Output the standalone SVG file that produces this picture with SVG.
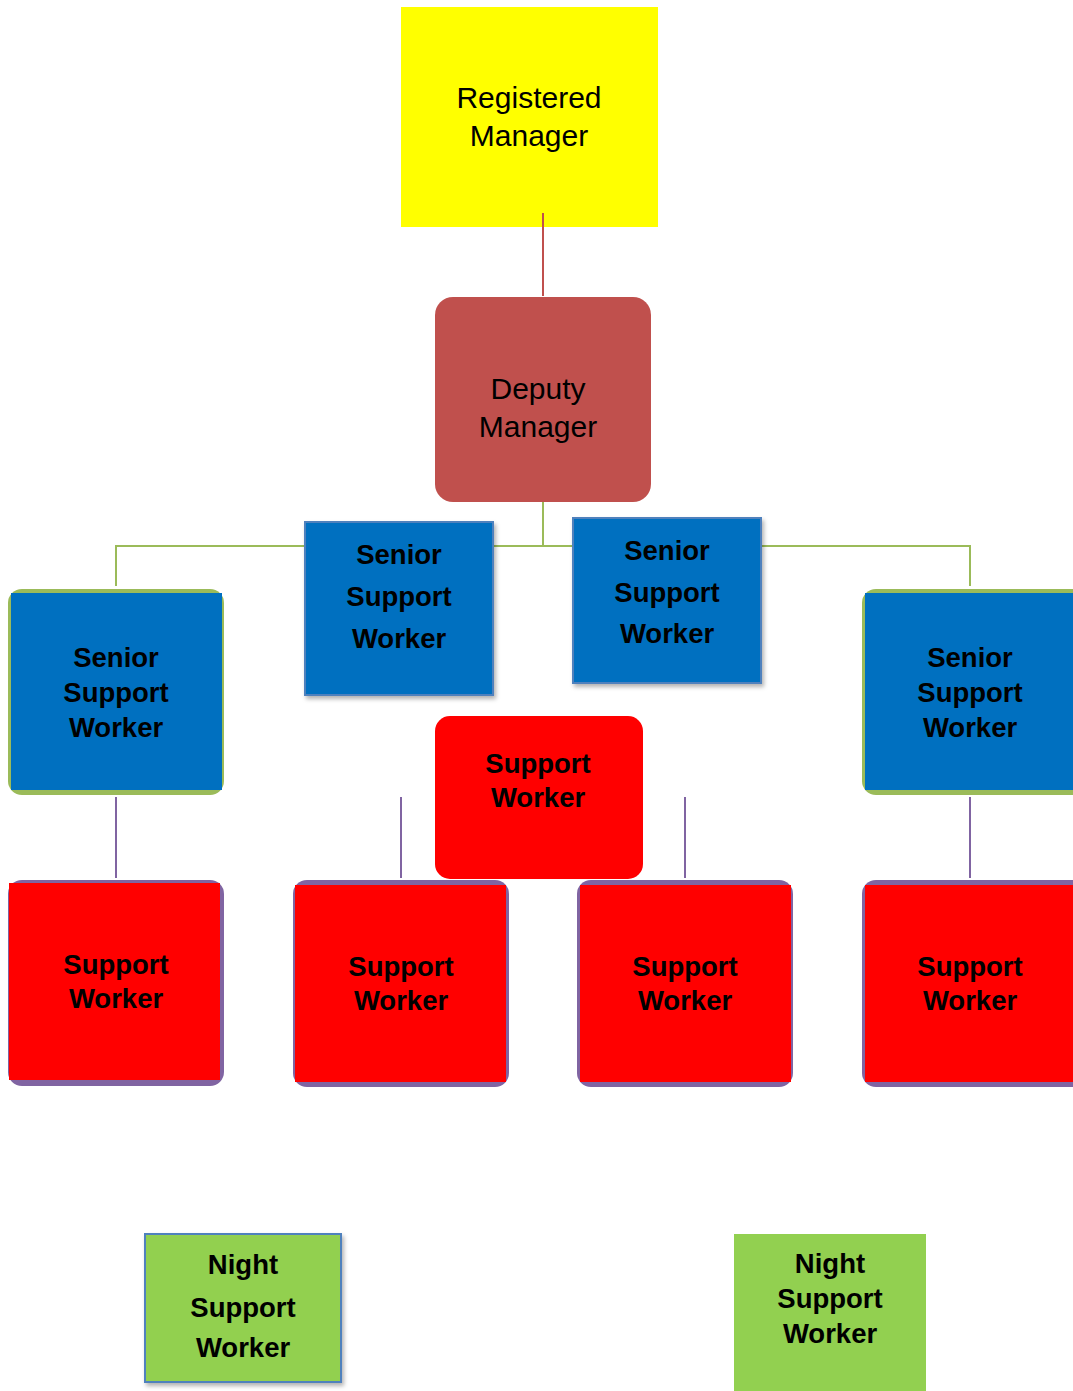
<svg xmlns="http://www.w3.org/2000/svg" width="1073" height="1391" viewBox="0 0 1073 1391">
<defs>
<filter id="sh" x="-10%" y="-10%" width="125%" height="125%">
<feDropShadow dx="2" dy="3" stdDeviation="2" flood-color="#000" flood-opacity="0.3"/>
</filter>
</defs>
<style>
text{font-family:"Liberation Sans",Arial,sans-serif;fill:#000;text-anchor:middle}
.reg{font-size:30px}
.b{font-size:27.5px;font-weight:bold}
.yellow{fill:#FFFF00}
.dep{fill:#C0504D}
.blue{fill:#0070C0}
.bluebd{fill:#0070C0;stroke:#4F81BD;stroke-width:2}
.grn{fill:#9BBB59}
.pur{fill:#8064A2}
.red{fill:#FF0000}
.night{fill:#92D050}
.nightbd{fill:#92D050;stroke:#4F81BD;stroke-width:2}
.c-red{stroke:#C0504D;stroke-width:2;fill:none}
.c-grn{stroke:#9BBB59;stroke-width:2;fill:none}
.c-pur{stroke:#8064A2;stroke-width:2;fill:none}
</style>
<rect width="1073" height="1391" fill="#fff"/>
<g id="registered-manager">
<rect class="yellow" x="401" y="7" width="257" height="220"/>
<text class="reg" x="529" y="108">Registered</text>
<text class="reg" x="529" y="146">Manager</text>
</g>
<g id="connectors">
<line class="c-red" x1="543" y1="213" x2="543" y2="296"/>
<path class="c-grn" d="M543 502 V546 M116 586 V546 H970 V586"/>
<line class="c-pur" x1="116" y1="797" x2="116" y2="878"/>
<line class="c-pur" x1="401" y1="797" x2="401" y2="878"/>
<line class="c-pur" x1="685" y1="797" x2="685" y2="878"/>
<line class="c-pur" x1="970" y1="797" x2="970" y2="878"/>
</g>
<g id="deputy-manager">
<rect class="dep" x="435" y="297" width="216" height="205" rx="18"/>
<text class="reg" x="538" y="399">Deputy</text>
<text class="reg" x="538" y="437">Manager</text>
</g>
<g id="senior-1">
<rect class="grn" x="8" y="589" width="216" height="206" rx="14"/>
<rect class="blue" x="11" y="593" width="211" height="197"/>
<text class="b" x="116" y="667">Senior</text>
<text class="b" x="116" y="702">Support</text>
<text class="b" x="116" y="737">Worker</text>
</g>
<g id="senior-2">
<rect class="bluebd" x="305" y="522" width="188" height="173" filter="url(#sh)"/>
<text class="b" x="399" y="564">Senior</text>
<text class="b" x="399" y="606">Support</text>
<text class="b" x="399" y="648">Worker</text>
</g>
<g id="senior-3">
<rect class="bluebd" x="573" y="518" width="188" height="165" filter="url(#sh)"/>
<text class="b" x="667" y="560">Senior</text>
<text class="b" x="667" y="602">Support</text>
<text class="b" x="667" y="643">Worker</text>
</g>
<g id="senior-4">
<rect class="grn" x="862" y="589" width="230" height="206" rx="14"/>
<rect class="blue" x="865" y="593" width="220" height="197"/>
<text class="b" x="970" y="667">Senior</text>
<text class="b" x="970" y="702">Support</text>
<text class="b" x="970" y="737">Worker</text>
</g>
<g id="support-top">
<rect class="red" x="435" y="716" width="208" height="163" rx="15"/>
<text class="b" x="538" y="773">Support</text>
<text class="b" x="538" y="807">Worker</text>
</g>
<g id="support-1">
<rect class="pur" x="8" y="880" width="216" height="206" rx="14"/>
<rect class="red" x="9" y="883" width="211" height="197"/>
<text class="b" x="116" y="974">Support</text>
<text class="b" x="116" y="1008">Worker</text>
</g>
<g id="support-2">
<rect class="pur" x="293" y="880" width="216" height="207" rx="14"/>
<rect class="red" x="295" y="885" width="211" height="197"/>
<text class="b" x="401" y="976">Support</text>
<text class="b" x="401" y="1010">Worker</text>
</g>
<g id="support-3">
<rect class="pur" x="577" y="880" width="216" height="207" rx="14"/>
<rect class="red" x="580" y="885" width="211" height="197"/>
<text class="b" x="685" y="976">Support</text>
<text class="b" x="685" y="1010">Worker</text>
</g>
<g id="support-4">
<rect class="pur" x="862" y="880" width="230" height="207" rx="14"/>
<rect class="red" x="865" y="885" width="220" height="197"/>
<text class="b" x="970" y="976">Support</text>
<text class="b" x="970" y="1010">Worker</text>
</g>
<g id="night-1">
<rect class="nightbd" x="145" y="1234" width="196" height="148" filter="url(#sh)"/>
<text class="b" x="243" y="1274">Night</text>
<text class="b" x="243" y="1317">Support</text>
<text class="b" x="243" y="1357">Worker</text>
</g>
<g id="night-2">
<rect class="night" x="734" y="1234" width="192" height="160"/>
<text class="b" x="830" y="1273">Night</text>
<text class="b" x="830" y="1308">Support</text>
<text class="b" x="830" y="1343">Worker</text>
</g>
</svg>
